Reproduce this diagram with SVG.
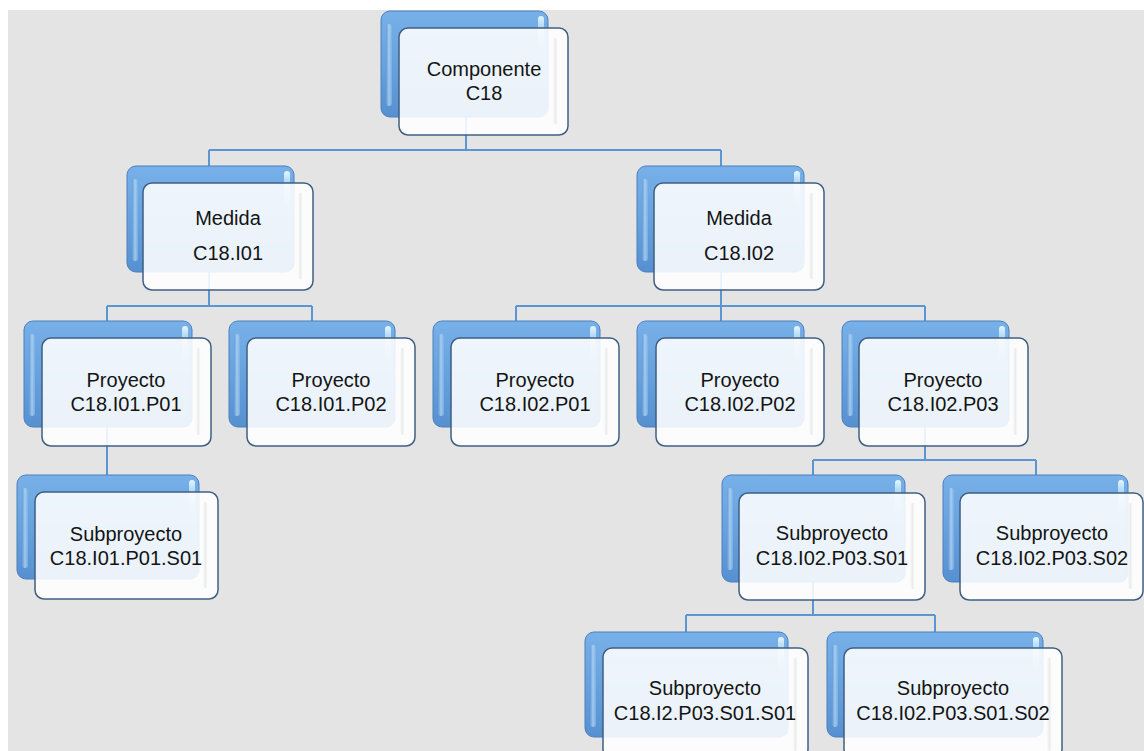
<svg xmlns="http://www.w3.org/2000/svg" width="1144" height="751" viewBox="0 0 1144 751">
<defs>
<linearGradient id="blueGrad" x1="0" y1="0" x2="0" y2="1">
<stop offset="0" stop-color="#78b0e8"/>
<stop offset="0.5" stop-color="#67a2de"/>
<stop offset="1" stop-color="#5690d0"/>
</linearGradient>
<linearGradient id="hiGrad" x1="0" y1="0" x2="0" y2="1">
<stop offset="0" stop-color="#e8fbff" stop-opacity="0.95"/>
<stop offset="1" stop-color="#9fd3f7" stop-opacity="0"/>
</linearGradient>
<linearGradient id="leftBev" x1="0" y1="0" x2="1" y2="0">
<stop offset="0" stop-color="#5f97d3"/>
<stop offset="0.5" stop-color="#b9d9f5"/>
<stop offset="1" stop-color="#7cb0e6"/>
</linearGradient>
<linearGradient id="rightBev" x1="0" y1="0" x2="1" y2="0">
<stop offset="0" stop-color="#f4f4f4" stop-opacity="0.4"/>
<stop offset="0.5" stop-color="#dcdee1" stop-opacity="0.55"/>
<stop offset="1" stop-color="#ffffff" stop-opacity="0.4"/>
</linearGradient>
</defs>
<style>
.bg{fill:#e4e4e4}
.conn{fill:none;stroke:#5b96d2;stroke-width:2}
.back{fill:url(#blueGrad);stroke:#4a80bf;stroke-width:1}
.lb{fill:url(#leftBev);opacity:0.75}
.hi{fill:url(#hiGrad)}
.front{fill:#ffffff;fill-opacity:0.88;stroke:#3e5f82;stroke-width:1.5}
.rb{fill:url(#rightBev)}
.t{font-family:"Liberation Sans",Arial,sans-serif;font-size:20px;fill:#141414;text-anchor:middle}
</style>
<rect x="0" y="0" width="1144" height="751" fill="#ffffff"/>
<rect class="bg" x="8" y="10" width="1136" height="741"/>

<g id="connectors">
<path class="conn" d="M466 117 V150 M209 150 H721 M209 150 V166 M721 150 V166"/>
<path class="conn" d="M209 272 V306 M107 306 H312 M107 306 V321 M312 306 V321"/>
<path class="conn" d="M721 272 V306 M516 306 H925 M516 306 V321 M721 306 V321 M925 306 V321"/>
<path class="conn" d="M107 427 V475"/>
<path class="conn" d="M925 427 V460 M813 460 H1036 M813 460 V475 M1036 460 V475"/>
<path class="conn" d="M813 582 V615 M686 615 H935 M686 615 V632 M935 615 V632"/>
</g>

<g id="n-c18">
<rect class="back" x="381" y="11" width="167" height="106" rx="9"/>
<rect class="lb" x="386" y="24" width="6" height="82" rx="3"/>
<rect class="hi" x="538" y="16" width="6" height="36" rx="3"/>
<rect class="front" x="399" y="28" width="169" height="107" rx="9"/>
<rect class="rb" x="553" y="38" width="5" height="86" rx="2.5"/>
<text class="t" x="484" y="76">Componente</text>
<text class="t" x="484" y="100">C18</text>
</g>

<g id="n-i01">
<rect class="back" x="127" y="166" width="167" height="106" rx="9"/>
<rect class="lb" x="132" y="179" width="6" height="82" rx="3"/>
<rect class="hi" x="284" y="171" width="6" height="36" rx="3"/>
<rect class="front" x="143" y="183" width="170" height="107" rx="9"/>
<rect class="rb" x="298" y="193" width="5" height="86" rx="2.5"/>
<text class="t" x="228" y="225">Medida</text>
<text class="t" x="228" y="260">C18.I01</text>
</g>

<g id="n-i02">
<rect class="back" x="637" y="166" width="167" height="106" rx="9"/>
<rect class="lb" x="642" y="179" width="6" height="82" rx="3"/>
<rect class="hi" x="794" y="171" width="6" height="36" rx="3"/>
<rect class="front" x="654" y="183" width="170" height="107" rx="9"/>
<rect class="rb" x="809" y="193" width="5" height="86" rx="2.5"/>
<text class="t" x="739" y="225">Medida</text>
<text class="t" x="739" y="260">C18.I02</text>
</g>

<g id="n-i01-p01">
<rect class="back" x="24" y="321" width="168" height="106" rx="9"/>
<rect class="lb" x="29" y="334" width="6" height="82" rx="3"/>
<rect class="hi" x="182" y="326" width="6" height="36" rx="3"/>
<rect class="front" x="42" y="338" width="169" height="108" rx="9"/>
<rect class="rb" x="196" y="348" width="5" height="87" rx="2.5"/>
<text class="t" x="126" y="387">Proyecto</text>
<text class="t" x="126" y="411">C18.I01.P01</text>
</g>

<g id="n-i01-p02">
<rect class="back" x="229" y="321" width="166" height="106" rx="9"/>
<rect class="lb" x="234" y="334" width="6" height="82" rx="3"/>
<rect class="hi" x="385" y="326" width="6" height="36" rx="3"/>
<rect class="front" x="247" y="338" width="168" height="108" rx="9"/>
<rect class="rb" x="400" y="348" width="5" height="87" rx="2.5"/>
<text class="t" x="331" y="387">Proyecto</text>
<text class="t" x="331" y="411">C18.I01.P02</text>
</g>

<g id="n-i02-p01">
<rect class="back" x="433" y="321" width="167" height="106" rx="9"/>
<rect class="lb" x="438" y="334" width="6" height="82" rx="3"/>
<rect class="hi" x="590" y="326" width="6" height="36" rx="3"/>
<rect class="front" x="451" y="338" width="168" height="108" rx="9"/>
<rect class="rb" x="604" y="348" width="5" height="87" rx="2.5"/>
<text class="t" x="535" y="387">Proyecto</text>
<text class="t" x="535" y="411">C18.I02.P01</text>
</g>

<g id="n-i02-p02">
<rect class="back" x="637" y="321" width="167" height="106" rx="9"/>
<rect class="lb" x="642" y="334" width="6" height="82" rx="3"/>
<rect class="hi" x="794" y="326" width="6" height="36" rx="3"/>
<rect class="front" x="656" y="338" width="168" height="108" rx="9"/>
<rect class="rb" x="809" y="348" width="5" height="87" rx="2.5"/>
<text class="t" x="740" y="387">Proyecto</text>
<text class="t" x="740" y="411">C18.I02.P02</text>
</g>

<g id="n-i02-p03">
<rect class="back" x="842" y="321" width="167" height="106" rx="9"/>
<rect class="lb" x="847" y="334" width="6" height="82" rx="3"/>
<rect class="hi" x="999" y="326" width="6" height="36" rx="3"/>
<rect class="front" x="859" y="338" width="169" height="108" rx="9"/>
<rect class="rb" x="1013" y="348" width="5" height="87" rx="2.5"/>
<text class="t" x="943" y="387">Proyecto</text>
<text class="t" x="943" y="411">C18.I02.P03</text>
</g>

<g id="n-i01-p01-s01">
<rect class="back" x="17" y="475" width="182" height="104" rx="9"/>
<rect class="lb" x="22" y="488" width="6" height="80" rx="3"/>
<rect class="hi" x="189" y="480" width="6" height="36" rx="3"/>
<rect class="front" x="35" y="492" width="183" height="107" rx="9"/>
<rect class="rb" x="203" y="502" width="5" height="86" rx="2.5"/>
<text class="t" x="126" y="541">Subproyecto</text>
<text class="t" x="126" y="565">C18.I01.P01.S01</text>
</g>

<g id="n-i02-p03-s01">
<rect class="back" x="722" y="475" width="183" height="107" rx="9"/>
<rect class="lb" x="727" y="488" width="6" height="82" rx="3"/>
<rect class="hi" x="895" y="480" width="6" height="36" rx="3"/>
<rect class="front" x="739" y="493" width="186" height="107" rx="9"/>
<rect class="rb" x="910" y="503" width="5" height="86" rx="2.5"/>
<text class="t" x="832" y="540">Subproyecto</text>
<text class="t" x="832" y="565">C18.I02.P03.S01</text>
</g>

<g id="n-i02-p03-s02">
<rect class="back" x="943" y="475" width="185" height="107" rx="9"/>
<rect class="lb" x="948" y="488" width="6" height="82" rx="3"/>
<rect class="hi" x="1118" y="480" width="6" height="36" rx="3"/>
<rect class="front" x="960" y="493" width="183" height="107" rx="9"/>
<rect class="rb" x="1128" y="503" width="5" height="86" rx="2.5"/>
<text class="t" x="1052" y="540">Subproyecto</text>
<text class="t" x="1052" y="565">C18.I02.P03.S02</text>
</g>

<g id="n-s01-s01">
<rect class="back" x="585" y="632" width="203" height="105" rx="9"/>
<rect class="lb" x="590" y="645" width="6" height="82" rx="3"/>
<rect class="hi" x="778" y="637" width="6" height="36" rx="3"/>
<rect class="front" x="603" y="648" width="205" height="110" rx="9"/>
<rect class="rb" x="793" y="658" width="5" height="93" rx="2.5"/>
<text class="t" x="705" y="695">Subproyecto</text>
<text class="t" x="705" y="720">C18.I2.P03.S01.S01</text>
</g>

<g id="n-s01-s02">
<rect class="back" x="827" y="632" width="216" height="105" rx="9"/>
<rect class="lb" x="832" y="645" width="6" height="82" rx="3"/>
<rect class="hi" x="1033" y="637" width="6" height="36" rx="3"/>
<rect class="front" x="844" y="648" width="218" height="110" rx="9"/>
<rect class="rb" x="1047" y="658" width="5" height="93" rx="2.5"/>
<text class="t" x="953" y="695">Subproyecto</text>
<text class="t" x="953" y="720">C18.I02.P03.S01.S02</text>
</g>
</svg>
